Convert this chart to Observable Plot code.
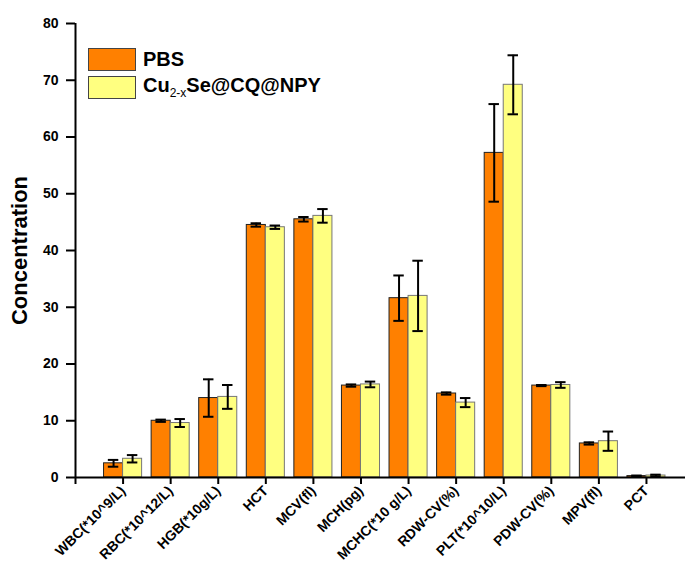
<!DOCTYPE html>
<html>
<head>
<meta charset="utf-8">
<script src="https://cdn.jsdelivr.net/npm/d3@7"></script>
<script src="https://cdn.jsdelivr.net/npm/@observablehq/plot@0.6"></script>
<style>
  html, body { margin: 0; padding: 0; background: #fff; }
  #wrap { position: relative; width: 685px; height: 563px; font-family: "Liberation Sans", Arial, sans-serif; }
  #legend { position: absolute; left: 88px; top: 46px; font-weight: bold; font-size: 20px; color: #000; }
  .row { display: flex; align-items: center; height: 26px; margin-bottom: 2px; }
  .sw { width: 48px; height: 23px; box-sizing: border-box; border: 1px solid #444; margin-right: 7px; }
  sub { font-size: 12px; font-weight: normal; vertical-align: -5px; }
  svg g[aria-label="y-axis label"] text { font-size: 22px; font-weight: bold; }
  svg g[aria-label="x-axis tick label"] text, svg g[aria-label="y-axis tick label"] text { font-weight: bold; }
  svg g[aria-label="x-axis tick"] path, svg g[aria-label="y-axis tick"] path { stroke-width: 2; }
</style>
</head>
<body>
<div id="wrap"></div>
<script>
const categories = ["WBC(*10^9/L)","RBC(*10^12/L)","HGB(*10g/L)","HCT","MCV(fl)","MCH(pg)","MCHC(*10 g/L)","RDW-CV(%)","PLT(*10^10/L)","PDW-CV(%)","MPV(fl)","PCT"];
const seriesNames = ["PBS", "Cu2-xSe@CQ@NPY"];
const pbsMean = [2.5, 10.0, 14.0, 44.5, 45.5, 16.2, 31.6, 14.8, 57.2, 16.2, 6.0, 0.25];
const pbsErr  = [0.6, 0.2, 3.3, 0.3, 0.4, 0.2, 4.0, 0.2, 8.6, 0.1, 0.2, 0.1];
const cuMean  = [3.3, 9.6, 14.2, 44.1, 46.1, 16.4, 32.0, 13.2, 69.2, 16.3, 6.4, 0.35];
const cuErr   = [0.65, 0.7, 2.1, 0.3, 1.2, 0.5, 6.2, 0.8, 5.2, 0.5, 1.7, 0.15];
const yTicks = [0, 10, 20, 30, 40, 50, 60, 70, 80];
const colors = ["#ff8000", "#ffff80"];
const strokes = ["#222", "#777"];

const barW = 0.4;
const rows = [];
categories.forEach((c, i) => {
  rows.push({cat: c, pos: i + 1, s: 0, mean: pbsMean[i], err: pbsErr[i]});
  rows.push({cat: c, pos: i + 1, s: 1, mean: cuMean[i], err: cuErr[i]});
});
const cx = d => d.pos + (d.s === 0 ? -barW / 2 : barW / 2);
const capHalf = 0.11;

const chart = Plot.plot({
  width: 685,
  height: 563,
  marginLeft: 75,
  marginRight: 0,
  marginTop: 23,
  marginBottom: 86,
  style: {fontFamily: "'Liberation Sans', Arial, sans-serif", fontSize: "14px", color: "#000", overflow: "visible"},
  x: {type: "linear", domain: [0, 610 / 47.58]},
  y: {domain: [0, 80]},
  marks: [
    Plot.rectY(rows, {
      x1: d => d.s === 0 ? d.pos - barW : d.pos,
      x2: d => d.s === 0 ? d.pos : d.pos + barW,
      y1: 0, y2: "mean",
      fill: d => colors[d.s],
      stroke: d => strokes[d.s],
      strokeWidth: 1
    }),
    Plot.ruleX(rows, {x: cx, y1: d => d.mean - d.err, y2: d => d.mean + d.err, stroke: "#000", strokeWidth: 2}),
    Plot.ruleY(rows, {y: d => d.mean + d.err, x1: d => cx(d) - capHalf, x2: d => cx(d) + capHalf, stroke: "#000", strokeWidth: 2}),
    Plot.ruleY(rows, {y: d => d.mean - d.err, x1: d => cx(d) - capHalf, x2: d => cx(d) + capHalf, stroke: "#000", strokeWidth: 2}),
    Plot.axisY({ticks: yTicks, tickSize: 9, tickPadding: 8, fontSize: 14, label: "Concentration", labelAnchor: "center", labelArrow: "none", labelOffset: 64}),
    Plot.axisX({ticks: d3.range(0, 13), tickFormat: d => d === 0 ? "" : categories[d - 1], tickRotate: -45, tickSize: 7, tickPadding: 4, fontSize: 14, label: null}),
    Plot.ruleY([0], {stroke: "#000", strokeWidth: 2}),
    Plot.ruleX([0], {stroke: "#000", strokeWidth: 2})
  ]
});

const wrap = document.getElementById("wrap");
wrap.appendChild(chart);
const legend = document.createElement("div");
legend.id = "legend";
legend.innerHTML =
  `<div class="row"><div class="sw" style="background:${colors[0]}"></div><span>${seriesNames[0]}</span></div>` +
  `<div class="row"><div class="sw" style="background:${colors[1]}"></div><span>Cu<sub>2-x</sub>Se@CQ@NPY</span></div>`;
wrap.appendChild(legend);
</script>
</body>
</html>
